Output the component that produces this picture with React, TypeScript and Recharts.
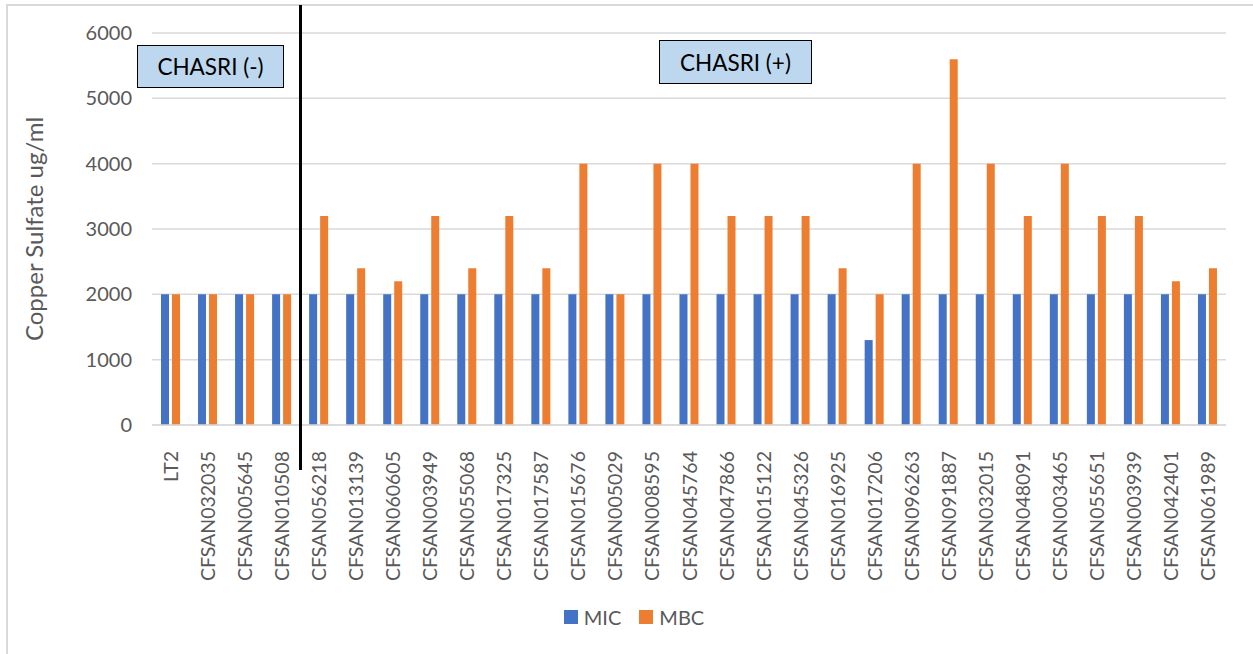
import { Bar, BarChart, CartesianGrid, Legend, XAxis, YAxis } from "recharts";

const strains = [
  "LT2", "CFSAN032035", "CFSAN005645", "CFSAN010508", "CFSAN056218", "CFSAN013139",
  "CFSAN060605", "CFSAN003949", "CFSAN055068", "CFSAN017325", "CFSAN017587",
  "CFSAN015676", "CFSAN005029", "CFSAN008595", "CFSAN045764", "CFSAN047866",
  "CFSAN015122", "CFSAN045326", "CFSAN016925", "CFSAN017206", "CFSAN096263",
  "CFSAN091887", "CFSAN032015", "CFSAN048091", "CFSAN003465", "CFSAN055651",
  "CFSAN003939", "CFSAN042401", "CFSAN061989",
];

const mic = [
  2000, 2000, 2000, 2000, 2000, 2000, 2000, 2000, 2000, 2000, 2000, 2000, 2000, 2000, 2000,
  2000, 2000, 2000, 2000, 1300, 2000, 2000, 2000, 2000, 2000, 2000, 2000, 2000, 2000,
];

const mbc = [
  2000, 2000, 2000, 2000, 3200, 2400, 2200, 3200, 2400, 3200, 2400, 4000, 2000, 4000, 4000,
  3200, 3200, 3200, 2400, 2000, 4000, 5600, 4000, 3200, 4000, 3200, 3200, 2200, 2400,
];

const yTicks = [0, 1000, 2000, 3000, 4000, 5000, 6000];

const data = strains.map((name, i) => ({ name, MIC: mic[i], MBC: mbc[i] }));

const FONT = "Lato, 'Open Sans', sans-serif";
const GRAY = "#595959";
const GRID = "#d9d9d9";
const BLUE = "#4472c4";
const ORANGE = "#ed7d31";

function StrainTick({ x, y, payload }: any) {
  return (
    <text
      x={x}
      y={y + 18}
      transform={`rotate(-90, ${x}, ${y + 18})`}
      textAnchor="end"
      dominantBaseline="central"
      fill={GRAY}
      fontSize={19.5}
      fontFamily={FONT}
    >
      {payload.value}
    </text>
  );
}

function YTitle({ viewBox }: any) {
  const cx = viewBox.x + 33;
  const cy = viewBox.y + viewBox.height / 2;
  return (
    <text
      x={cx}
      y={cy}
      transform={`rotate(-90, ${cx}, ${cy})`}
      textAnchor="middle"
      dominantBaseline="central"
      fill={GRAY}
      fontSize={24}
      fontFamily={FONT}
    >
      Copper Sulfate ug/ml
    </text>
  );
}

function LegendBox() {
  const items = [
    { label: "MIC", color: BLUE },
    { label: "MBC", color: ORANGE },
  ];
  return (
    <div
      style={{
        height: 24,
        display: "flex",
        justifyContent: "center",
        alignItems: "center",
        gap: 18,
        paddingLeft: 42,
        fontFamily: FONT,
        fontSize: 20,
        color: GRAY,
      }}
    >
      {items.map((it) => (
        <span key={it.label} style={{ display: "flex", alignItems: "center", gap: 6 }}>
          <span style={{ width: 14, height: 14, background: it.color, display: "inline-block" }} />
          {it.label}
        </span>
      ))}
    </div>
  );
}

const boxStyle = {
  position: "absolute" as const,
  background: "#bdd7ee",
  border: "1.5px solid #000",
  boxSizing: "border-box" as const,
  display: "flex",
  alignItems: "center",
  justifyContent: "center",
  fontFamily: FONT,
  fontSize: 22.5,
  color: "#000",
};

export default function App() {
  return (
    <div
      style={{
        position: "absolute",
        left: 0,
        top: 0,
        width: 1253,
        height: 654,
        background: "#fff",
        overflow: "hidden",
      }}
    >
      <div
        style={{
          position: "absolute",
          left: 6,
          top: 4,
          right: 0,
          bottom: 0,
          borderLeft: `2px solid ${GRID}`,
          borderTop: `2px solid ${GRID}`,
        }}
      />
      <BarChart
        width={1253}
        height={654}
        data={data}
        margin={{ top: 33, right: 27, left: 0, bottom: 25 }}
        barSize={8}
        barGap={3}
      >
        <CartesianGrid vertical={false} stroke={GRID} strokeWidth={1.5} />
        <XAxis
          dataKey="name"
          interval={0}
          height={180}
          tick={<StrainTick />}
          tickLine={false}
          axisLine={{ stroke: GRID, strokeWidth: 1.5 }}
        />
        <YAxis
          width={152}
          domain={[0, 6000]}
          ticks={yTicks}
          interval={0}
          tickLine={false}
          axisLine={false}
          tickMargin={14}
          tick={{ fill: GRAY, fontSize: 20, fontFamily: FONT }}
          label={<YTitle />}
        />
        <Legend verticalAlign="bottom" content={<LegendBox />} />
        <Bar dataKey="MIC" fill={BLUE} isAnimationActive={false} />
        <Bar dataKey="MBC" fill={ORANGE} isAnimationActive={false} />
      </BarChart>
      <div style={{ position: "absolute", left: 298.5, top: 5, width: 3.5, height: 465, background: "#000" }} />
      <div style={{ ...boxStyle, left: 137, top: 45, width: 147, height: 43 }}>CHASRI (-)</div>
      <div style={{ ...boxStyle, left: 659, top: 40, width: 153, height: 44 }}>CHASRI (+)</div>
    </div>
  );
}
